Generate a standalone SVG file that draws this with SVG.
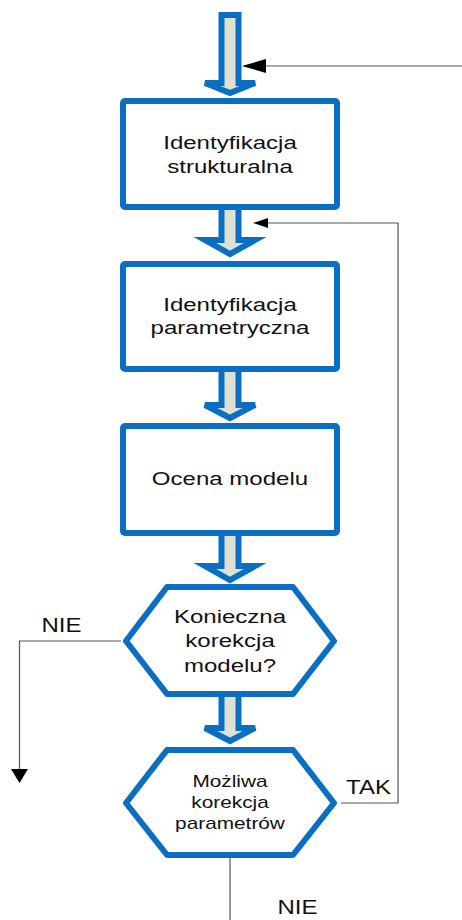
<svg xmlns="http://www.w3.org/2000/svg" width="462" height="920" viewBox="0 0 462 920">
<style>
.box{fill:#fff;stroke:#0a6fc2;stroke-width:6;stroke-linejoin:round}
.blk{fill:#dfe1d3;stroke:#0a6fc2;stroke-width:6;stroke-linejoin:miter}
.ln{fill:none;stroke:#555;stroke-width:1.2}
.ah{fill:#000}
text{font-family:"Liberation Sans",Arial,sans-serif;fill:#111;text-anchor:middle}
.t{font-size:18.5px}
.s{font-size:16px}
.lb{font-size:20px}
</style>
<rect width="462" height="920" fill="#fff"/>
<g id="connectors">
<polygon class="blk" points="221.5,15 238.5,15 238.5,83 255,83 230,93 205,83 221.5,83"/>
<polygon class="blk" points="221.5,207 238.5,207 238.5,240 255,240 230,254 205,240 221.5,240"/>
<polygon class="blk" points="221.5,369 238.5,369 238.5,405 255,405 230,418 205,405 221.5,405"/>
<polygon class="blk" points="221.5,533 238.5,533 238.5,566 255,566 230,580 205,566 221.5,566"/>
<polygon class="blk" points="221.5,694 238.5,694 238.5,728 255,728 230,741 205,728 221.5,728"/>
<line class="ln" x1="264" y1="66" x2="462" y2="66"/>
<polygon class="ah" points="242,66 266,59 266,73"/>
<polyline class="ln" points="341,803 398,803 398,223 266,223"/>
<polygon class="ah" points="253,223 268,218 268,228"/>
<polyline class="ln" points="121,641 19.5,641 19.5,775"/>
<polygon class="ah" points="19.5,783 11,769 28,769"/>
<line class="ln" x1="230" y1="858" x2="230" y2="920"/>
<text class="lb" transform="translate(61.5,0) scale(1.2,1)" y="632">NIE</text>
<text class="lb" transform="translate(368.5,0) scale(1.2,1)" y="794">TAK</text>
<text class="lb" transform="translate(297.5,0) scale(1.2,1)" y="914">NIE</text>
</g>
<g id="n1">
<rect class="box" x="123" y="101" width="214" height="106" rx="2"/>
<text class="t" transform="translate(230,0) scale(1.3,1)" y="149">Identyfikacja</text>
<text class="t" transform="translate(230,0) scale(1.3,1)" y="173">strukturalna</text>
</g>
<g id="n2">
<rect class="box" x="123" y="264" width="214" height="105" rx="2"/>
<text class="t" transform="translate(230,0) scale(1.3,1)" y="311">Identyfikacja</text>
<text class="t" transform="translate(230,0) scale(1.3,1)" y="334">parametryczna</text>
</g>
<g id="n3">
<rect class="box" x="123" y="426" width="214" height="107" rx="2"/>
<text class="t" transform="translate(230,0) scale(1.3,1)" y="485">Ocena modelu</text>
</g>
<g id="d1">
<polygon class="box" points="167,587 293,587 334,641 293,694 167,694 126,641"/>
<text class="t" transform="translate(230,0) scale(1.3,1)" y="623">Konieczna</text>
<text class="t" transform="translate(230,0) scale(1.3,1)" y="647">korekcja</text>
<text class="t" transform="translate(230,0) scale(1.3,1)" y="672">modelu?</text>
</g>
<g id="d2">
<polygon class="box" points="167,750 293,750 334,803 293,855 167,855 126,803"/>
<text class="s" transform="translate(230,0) scale(1.3,1)" y="787">Możliwa</text>
<text class="s" transform="translate(230,0) scale(1.3,1)" y="808">korekcja</text>
<text class="s" transform="translate(230,0) scale(1.3,1)" y="829">parametrów</text>
</g>
</svg>
